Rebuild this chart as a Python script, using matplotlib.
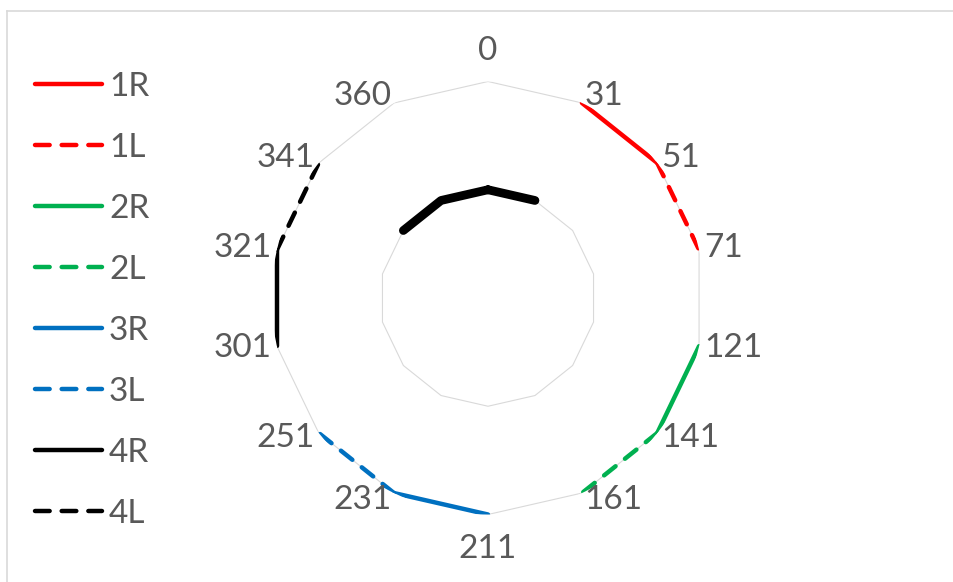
import numpy as np
import matplotlib
matplotlib.use("Agg")
import matplotlib.pyplot as plt
from matplotlib.lines import Line2D

# categories around the radar (clockwise from top)
categories = ['0', '31', '51', '71', '121', '141', '161', '211', '231', '251', '301', '321', '341', '360']

nan = np.nan
s_1R = [nan, 2, 2, nan, nan, nan, nan, nan, nan, nan, nan, nan, nan, nan]
s_1L = [nan, nan, 2, 2, nan, nan, nan, nan, nan, nan, nan, nan, nan, nan]
s_2R = [nan, nan, nan, nan, 2, 2, nan, nan, nan, nan, nan, nan, nan, nan]
s_2L = [nan, nan, nan, nan, nan, 2, 2, nan, nan, nan, nan, nan, nan, nan]
s_3R = [nan, nan, nan, nan, nan, nan, nan, 2, 2, nan, nan, nan, nan, nan]
s_3L = [nan, nan, nan, nan, nan, nan, nan, nan, 2, 2, nan, nan, nan, nan]
s_4R = [nan, nan, nan, nan, nan, nan, nan, nan, nan, nan, 2, 2, nan, nan]
s_4L = [nan, nan, nan, nan, nan, nan, nan, nan, nan, nan, nan, 2, 2, nan]
s_top = [1, 1, nan, nan, nan, nan, nan, nan, nan, nan, nan, nan, 1, 1]  # thick inner arc, no legend

grid_levels = [1, 2]

series = [
    ("1R", s_1R, "#FF0000", "-"),
    ("1L", s_1L, "#FF0000", "--"),
    ("2R", s_2R, "#00B050", "-"),
    ("2L", s_2L, "#00B050", "--"),
    ("3R", s_3R, "#0070C0", "-"),
    ("3L", s_3L, "#0070C0", "--"),
    ("4R", s_4R, "#000000", "-"),
    ("4L", s_4L, "#000000", "--"),
]

TEXT = "#595959"
GRID = "#d9d9d9"
FONT = "Lato"
FS = 24

W, H = 954, 582
fig = plt.figure(figsize=(W / 100, H / 100), dpi=100)

cx, cy, R = 488, 298, 216.5
ax = fig.add_axes([(cx - R) / W, (H - cy - R) / H, 2 * R / W, 2 * R / H], projection="polar")
ax.set_theta_zero_location("N")
ax.set_theta_direction(-1)
ax.set_ylim(0, 2)
ax.grid(False)
ax.set_xticks([])
ax.set_yticks([])
ax.spines["polar"].set_visible(False)
ax.patch.set_alpha(0)

n = len(categories)
theta = np.arange(n) * 2 * np.pi / n
theta_c = np.append(theta, 2 * np.pi)


def closed(vals):
    return np.append(vals, vals[0])


for lvl in grid_levels:
    ax.plot(theta_c, [lvl] * (n + 1), color=GRID, lw=0.8, zorder=1)

dash = (0, (3.3, 2.7))
for name, vals, col, ls in series:
    ax.plot(theta_c, closed(vals), color=col, lw=3.2,
            linestyle=dash if ls == "--" else "-",
            solid_capstyle="round", dash_capstyle="round", label=name, zorder=3)

ax.plot(theta_c, closed(s_top), color="#000000", lw=6.3, solid_capstyle="round",
        solid_joinstyle="round", label="_nolegend_", zorder=3)

# category labels just outside each vertex
for t, lab in zip(theta, categories):
    s, c = np.sin(t), np.cos(t)
    if s > 0.2:
        ha = "left"
    elif s < -0.2:
        ha = "right"
    else:
        ha = "center"
    if abs(s) > 0.2:
        dy = 8 * c
    else:
        dy = 30 if c > 0 else -34
    ax.annotate(lab, xy=(t, 2), xytext=(5 * s, dy), textcoords="offset pixels",
                ha=ha, va="center", fontsize=FS, color=TEXT, family=FONT,
                annotation_clip=False)

leg = fig.legend(loc="upper left", bbox_to_anchor=(35 / W, 1 - 72 / H), frameon=False,
                 borderpad=0, borderaxespad=0, handlelength=2.0, handletextpad=0.22,
                 labelspacing=0.93, prop={"family": FONT, "size": FS})
for t in leg.get_texts():
    t.set_color(TEXT)

# outer chart frame (only top and left edges fall inside the picture)
fig.add_artist(Line2D([7 / W, 1], [1 - 11 / H, 1 - 11 / H], color=GRID, lw=1.2))
fig.add_artist(Line2D([7 / W, 7 / W], [0, 1 - 11 / H], color=GRID, lw=1.2))

fig.savefig("out.png", dpi=100)
